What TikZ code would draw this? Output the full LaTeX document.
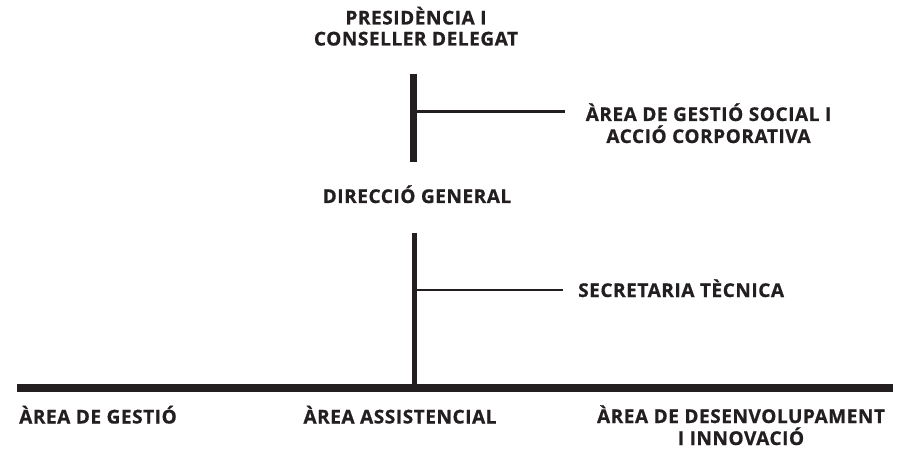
\documentclass[tikz,border=0pt]{standalone}
\usepackage{fontspec}
\setmainfont{Open Sans}[BoldFont={* Bold},BoldFeatures={FakeBold=0.8},LetterSpace=3]
\definecolor{ink}{RGB}{35,31,32}
\begin{document}
\begin{tikzpicture}[x=1pt,y=-1pt,
  lbl/.style={inner sep=0pt,anchor=base,text=ink,font=\fontsize{19}{21}\selectfont\bfseries,align=center},
  twoline/.style={lbl,font=\fontsize{19}{22}\selectfont\bfseries},
  thickline/.style={draw=ink,line width=7pt},
  midline/.style={draw=ink,line width=4.5pt},
  thinline/.style={draw=ink,line width=2.6pt},
  barline/.style={draw=ink,line width=8.5pt}]
\useasboundingbox (0,0) rectangle (901,454);
% text nodes (multi-line nodes are placed by the baseline of their last line)
\node[lbl] (pres) at (416,45.5) {PRESIDÈNCIA I\\CONSELLER DELEGAT};
\node[twoline] (social) at (708.5,143) {ÀREA DE GESTIÓ SOCIAL I\\ACCIÓ CORPORATIVA};
\node[lbl] (dg) at (417,203) {DIRECCIÓ GENERAL};
\node[lbl,anchor=base west] (sec) at (578,297) {SECRETARIA TÈCNICA};
\node[lbl] (gestio) at (98,423.5) {ÀREA DE GESTIÓ};
\node[lbl] (assist) at (400,423.5) {ÀREA ASSISTENCIAL};
\node[twoline] (desenv) at (741,445) {ÀREA DE DESENVOLUPAMENT\\I INNOVACIÓ};
% connector points
\coordinate (v1top) at (413.5,74);
\coordinate (v1bot) at (413.5,162);
\coordinate (b1) at (413.5,111.5);
\coordinate (b1end) at (565,111.5);
\coordinate (v2top) at (414.5,233);
\coordinate (v2bot) at (414.5,388);
\coordinate (b2) at (414.5,290);
\coordinate (b2end) at (563,290);
\coordinate (barL) at (17,388);
\coordinate (barR) at (893,388);
% lines
\draw[thickline] (v1top) -- (v1bot);
\draw[thinline] (b1) -- (b1end);
\draw[midline] (v2top) -- (v2bot);
\draw[thinline] (b2) -- (b2end);
\draw[barline] (barL) -- (barR);
\end{tikzpicture}
\end{document}
